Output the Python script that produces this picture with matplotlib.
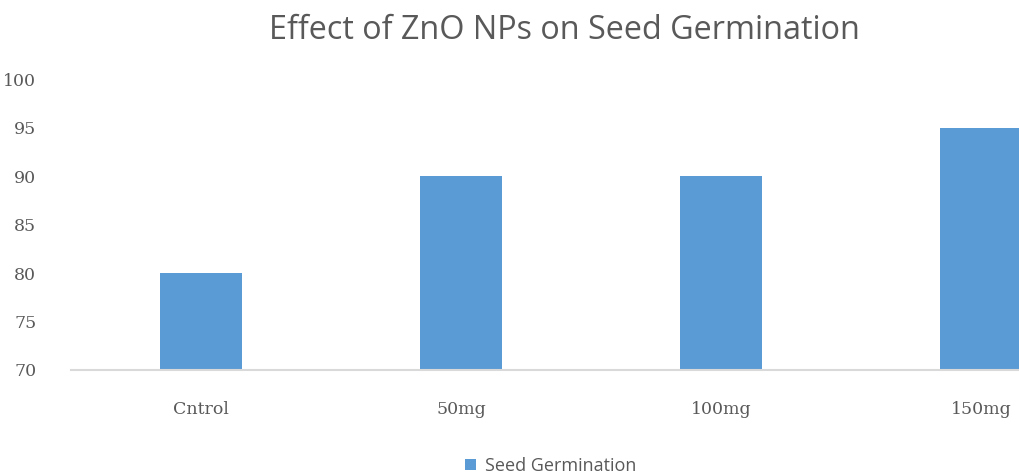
import matplotlib
matplotlib.use("Agg")
import matplotlib.pyplot as plt

categories = ["Cntrol", "50mg", "100mg", "150mg"]
germination = [80, 90, 90, 95]
y_ticks = [70, 75, 80, 85, 90, 95, 100]

bar_color = "#5B9BD5"
text_color = "#595959"

fig = plt.figure(figsize=(10.2, 4.76), dpi=100)
ax = fig.add_axes([0.0696, 0.2227, 0.9304, 0.6113])

x = range(len(categories))
ax.bar(x, germination, width=0.315, color=bar_color, label="Seed Germination", zorder=2)

ax.set_ylim(70, 100)
ax.set_xlim(-0.5, 3.15)
ax.set_yticks(y_ticks)
ax.set_xticks(list(x))
ax.set_xticklabels(categories)

for lab in ax.get_yticklabels() + ax.get_xticklabels():
    lab.set_fontfamily("DejaVu Serif")
    lab.set_fontsize(12.5)
    lab.set_color(text_color)

ax.tick_params(axis="both", length=0)
ax.tick_params(axis="y", pad=25)
ax.tick_params(axis="x", pad=22)
for s in ["top", "right", "left"]:
    ax.spines[s].set_visible(False)
ax.spines["bottom"].set_color("#d9d9d9")
ax.spines["bottom"].set_linewidth(1.5)

fig.text(0.553, 0.935, "Effect of ZnO NPs on Seed Germination", ha="center", va="center",
         fontsize=23.3, color=text_color, family="Open Sans")

leg = fig.legend(loc="center", bbox_to_anchor=(0.54, 0.021), frameon=False,
                 handlelength=0.6, handleheight=0.6, handletextpad=0.5,
                 prop={"family": "Open Sans", "size": 13})
for t in leg.get_texts():
    t.set_color(text_color)

fig.savefig("out.png", dpi=100)
